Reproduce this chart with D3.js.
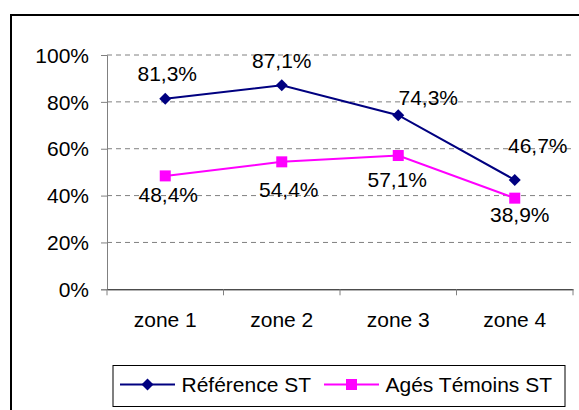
<!DOCTYPE html>
<html>
<head>
<meta charset="utf-8">
<script src="https://cdn.jsdelivr.net/npm/d3@7"></script>
<style>
  html, body { margin: 0; padding: 0; background: #fff; overflow: hidden; }
  svg { display: block; overflow: hidden; font-family: "Liberation Sans", Arial, sans-serif; }
</style>
</head>
<body>
<svg id="chart" width="579" height="410"></svg>
<script>
// Zones on the x axis
const zones = ["zone 1", "zone 2", "zone 3", "zone 4"];
// Series values (%)
const referenceST = [81.3, 87.1, 74.3, 46.7];
const agesTemoinsST = [48.4, 54.4, 57.1, 38.9];
const seriesNames = ["Référence ST", "Agés Témoins ST"];
const yTicks = [0, 20, 40, 60, 80, 100];

const FONT = "Liberation Sans, Arial, sans-serif";
const FS = 21;

const svg = d3.select("#chart");
const fmt = v => d3.format(".1f")(v).replace(".", ",") + "%";

// Outer frame: only the left and top edges fall inside the page
svg.append("path")
  .attr("d", "M11,420 L11,15 L600,15")
  .attr("fill", "none").attr("stroke", "#000").attr("stroke-width", 2);

const x = d3.scaleBand().domain(zones).range([107, 573]);
const y = d3.scaleLinear().domain([0, 100]).range([289.3, 55]);

// Grid lines
svg.append("g").selectAll("line").data(yTicks.filter(t => t > 0)).join("line")
  .attr("x1", 107).attr("x2", 573)
  .attr("y1", d => y(d)).attr("y2", d => y(d))
  .attr("stroke", "#808080").attr("stroke-dasharray", "5,4");

// Y axis
const yAxis = svg.append("g").attr("transform", "translate(107,0)")
  .call(d3.axisLeft(y).tickValues(yTicks).tickSize(6).tickPadding(12).tickFormat(d => d + "%"));
yAxis.select(".domain").attr("stroke", "#808080");
yAxis.selectAll(".tick line").attr("stroke", "#808080");
yAxis.selectAll("text").attr("font-size", FS).attr("fill", "#000")
  .attr("font-family", FONT).attr("dy", "0.34em");

// X axis
const xAxis = svg.append("g").attr("transform", `translate(0,${y(0)})`)
  .call(d3.axisBottom(x).tickSize(0).tickPadding(0));
xAxis.select(".domain").attr("stroke", "#000");
xAxis.selectAll("text").attr("font-size", FS).attr("fill", "#000")
  .attr("font-family", FONT).attr("dy", null).attr("y", 37.5);
// Category separators
svg.append("g").selectAll("line").data(zones.concat([null])).join("line")
  .attr("x1", (d, i) => x.range()[0] + i * x.step())
  .attr("x2", (d, i) => x.range()[0] + i * x.step())
  .attr("y1", y(0)).attr("y2", y(0) + 6)
  .attr("stroke", "#808080");

const cx = d => x(d) + x.bandwidth() / 2;
const line = d3.line().x(d => cx(d.z)).y(d => y(d.v));

const refData = zones.map((z, i) => ({ z, v: referenceST[i] }));
const agesData = zones.map((z, i) => ({ z, v: agesTemoinsST[i] }));

const navy = "#000080", magenta = "#FF00FF";

svg.append("path").datum(refData).attr("d", line)
  .attr("fill", "none").attr("stroke", navy).attr("stroke-width", 2);
svg.append("path").datum(agesData).attr("d", line)
  .attr("fill", "none").attr("stroke", magenta).attr("stroke-width", 2);

const diamond = d3.symbol().type(d3.symbolSquare).size(72);
svg.append("g").selectAll("path").data(refData).join("path")
  .attr("d", diamond)
  .attr("transform", d => `translate(${cx(d.z)},${y(d.v)}) rotate(45)`)
  .attr("fill", navy);

svg.append("g").selectAll("rect").data(agesData).join("rect")
  .attr("x", d => cx(d.z) - 5.5).attr("y", d => y(d.v) - 5.5)
  .attr("width", 11).attr("height", 11)
  .attr("fill", magenta);

// Value labels (offsets per point)
const refOff = [[2, -18], [0, -17], [30, -10], [23, -27]];
const agesOff = [[3, 26.5], [7, 35], [-1, 31], [5, 23.5]];
svg.append("g").selectAll("text").data(refData).join("text")
  .attr("x", (d, i) => cx(d.z) + refOff[i][0])
  .attr("y", (d, i) => y(d.v) + refOff[i][1])
  .attr("text-anchor", "middle").attr("font-size", FS).attr("fill", "#000")
  .text(d => fmt(d.v));
svg.append("g").selectAll("text").data(agesData).join("text")
  .attr("x", (d, i) => cx(d.z) + agesOff[i][0])
  .attr("y", (d, i) => y(d.v) + agesOff[i][1])
  .attr("text-anchor", "middle").attr("font-size", FS).attr("fill", "#000")
  .text(d => fmt(d.v));

// Legend
const lg = svg.append("g");
lg.append("rect").attr("x", 113).attr("y", 365.5).attr("width", 452).attr("height", 41)
  .attr("fill", "#fff").attr("stroke", "#000").attr("stroke-width", 1);
const legendItems = [
  { name: seriesNames[0], color: navy, shape: "diamond", x0: 120 },
  { name: seriesNames[1], color: magenta, shape: "square", x0: 324 }
];
legendItems.forEach(it => {
  const cy = 384.5;
  lg.append("line").attr("x1", it.x0).attr("x2", it.x0 + 55)
    .attr("y1", cy).attr("y2", cy).attr("stroke", it.color).attr("stroke-width", 2);
  if (it.shape === "diamond") {
    lg.append("path").attr("d", diamond)
      .attr("transform", `translate(${it.x0 + 27.5},${cy}) rotate(45)`).attr("fill", it.color);
  } else {
    lg.append("rect").attr("x", it.x0 + 22).attr("y", cy - 5.5)
      .attr("width", 11).attr("height", 11).attr("fill", it.color);
  }
  lg.append("text").attr("x", it.x0 + 61.5).attr("y", cy + 7.5)
    .attr("font-size", FS).attr("fill", "#000").attr("font-family", FONT).text(it.name);
});
</script>
</body>
</html>
